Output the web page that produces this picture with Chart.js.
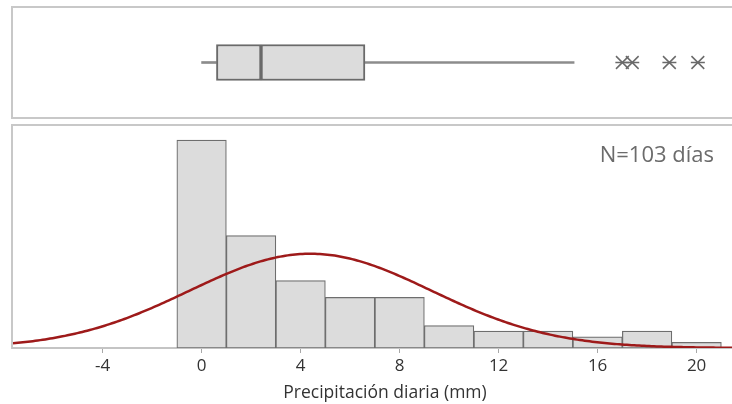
<!DOCTYPE html>
<html>
<head>
<meta charset="utf-8">
<script src="https://cdn.jsdelivr.net/npm/chart.js@4"></script>
<style>
  body { margin: 0; width: 732px; height: 404px; overflow: hidden; position: relative; background: #fff; font-family: "Open Sans", sans-serif; }
  canvas { position: absolute; left: 0; }
  #boxCanvas { top: 0; }
  #histCanvas { top: 120px; }
  #nLabel { position: absolute; left: 0; width: 714px; text-align: right; top: 142px; font-size: 22px; line-height: 22px; color: #6b6b6b; }
</style>
</head>
<body>
<canvas id="boxCanvas" width="757" height="120"></canvas>
<canvas id="histCanvas" width="757" height="284"></canvas>
<div id="nLabel">N=103 días</div>

<script>
// ===== DATA =====
const xMin = -7.62;
const xMax = 22.44;
const xTicks = [-4, 0, 4, 8, 12, 16, 20];

const binCenters = [0, 2, 4, 6, 8, 10, 12, 14, 16, 18, 20];
const binCounts = [37, 20, 12, 9, 9, 4, 3, 3, 2, 3, 1];
const binWidth = 2;

const whiskers = [0, 15.05];          // low, high
const quartiles = [0.6, 2.4, 6.6];     // Q1, median, Q3
const outliers = [17.0, 17.4, 18.9, 20.05];

const nDays = 103;
const fitMean = 4.4;
const fitSd = 4.9;

// ===== NORMAL FIT (scaled to counts) =====
let curve = [];
for (let x = xMin; x <= xMax + 0.001; x += 0.1) {
    let z = (x - fitMean) / fitSd;
    let y = nDays * binWidth * Math.exp(-0.5 * z * z) / (fitSd * Math.sqrt(2 * Math.PI));
    curve.push({ x: x, y: y });
}

// ===== PANEL FRAME =====
const panelFrame = {
    id: "panelFrame",
    beforeDraw(chart, args, opts) {
        const { ctx, chartArea: a } = chart;
        ctx.save();
        ctx.strokeStyle = "#c8c8c8";
        ctx.lineWidth = 2;
        ctx.beginPath();
        ctx.moveTo(chart.width + 2, a.top - 1);
        ctx.lineTo(a.left - 1, a.top - 1);
        ctx.lineTo(a.left - 1, a.bottom + 1);
        if (opts.bottom) ctx.lineTo(chart.width + 2, a.bottom + 1);
        ctx.stroke();
        ctx.restore();
    }
};

Chart.defaults.font.family = "'Open Sans', sans-serif";
Chart.defaults.animation = false;

// ===== BOXPLOT =====
const boxCat = ["Precipitación"];
const boxFill = "#dcdcdc";
const boxLine = "#6a6a6a";
const whiskerLine = "#8c8c8c";
const starStyle = {
    type: "line",
    showLine: false,
    pointRadius: 8,
    pointBorderColor: "#6a6a6a",
    pointBorderWidth: 1.5,
    pointBackgroundColor: "#6a6a6a"
};

new Chart(document.getElementById("boxCanvas"), {
    type: "bar",
    data: {
        labels: boxCat,
        datasets: [
            { ...starStyle, pointStyle: "crossRot", pointRadius: 9, data: outliers.map(v => ({ x: v, y: boxCat[0] })) },
            { ...starStyle, pointStyle: "line", pointRadius: 7, data: outliers.map(v => ({ x: v, y: boxCat[0] })) },
            { data: [[quartiles[0], quartiles[1]]], backgroundColor: boxFill, borderColor: boxLine, borderWidth: 2, borderSkipped: false, barThickness: 36, grouped: false },
            { data: [[quartiles[1], quartiles[2]]], backgroundColor: boxFill, borderColor: boxLine, borderWidth: 2, borderSkipped: false, barThickness: 36, grouped: false },
            { data: [[whiskers[0], quartiles[0]]], backgroundColor: whiskerLine, borderWidth: 0, barThickness: 2, grouped: false },
            { data: [[quartiles[2], whiskers[1]]], backgroundColor: whiskerLine, borderWidth: 0, barThickness: 2, grouped: false }
        ]
    },
    options: {
        indexAxis: "y",
        responsive: false,
        layout: { autoPadding: false, padding: { left: 13, top: 8, bottom: 3, right: 0 } },
        scales: {
            x: { type: "linear", min: xMin, max: xMax, display: false, offset: false },
            y: { type: "category", display: false }
        },
        plugins: {
            legend: { display: false },
            tooltip: { enabled: false },
            panelFrame: { bottom: true }
        }
    },
    plugins: [panelFrame]
});

// ===== HISTOGRAM + NORMAL CURVE =====
new Chart(document.getElementById("histCanvas"), {
    type: "bar",
    data: {
        datasets: [
            {
                type: "line",
                data: curve,
                borderColor: "#9e1a1a",
                borderWidth: 2.5,
                pointRadius: 0,
                order: 0
            },
            {
                type: "bar",
                data: binCenters.map((c, i) => ({ x: c, y: binCounts[i] })),
                backgroundColor: "#dcdcdc",
                borderColor: "#6e6e6e",
                borderWidth: 1.2,
                borderSkipped: false,
                barPercentage: 1,
                categoryPercentage: 1,
                order: 1
            }
        ]
    },
    options: {
        responsive: false,
        layout: { autoPadding: false, padding: { left: 13, top: 6, bottom: 0, right: 0 } },
        scales: {
            x: {
                type: "linear",
                min: xMin,
                max: xMax,
                offset: false,
                afterBuildTicks: s => { s.ticks = xTicks.map(v => ({ value: v })); },
                afterFit: s => { s.height = 56; },
                grid: { offset: false, drawOnChartArea: false, drawTicks: true, tickLength: 5, color: "#a8a8a8" },
                border: { display: true, color: "#c4c4c4", width: 2 },
                ticks: { font: { size: 17 }, color: "#333", padding: 3, maxRotation: 0 },
                title: { display: true, text: "Precipitación diaria (mm)", font: { size: 17.5 }, color: "#333", padding: { top: 0, bottom: 0 } }
            },
            y: { display: false, min: 0, max: 39.5 }
        },
        plugins: {
            legend: { display: false },
            tooltip: { enabled: false },
            panelFrame: { bottom: false }
        }
    },
    plugins: [panelFrame]
});
</script>
</body>
</html>
